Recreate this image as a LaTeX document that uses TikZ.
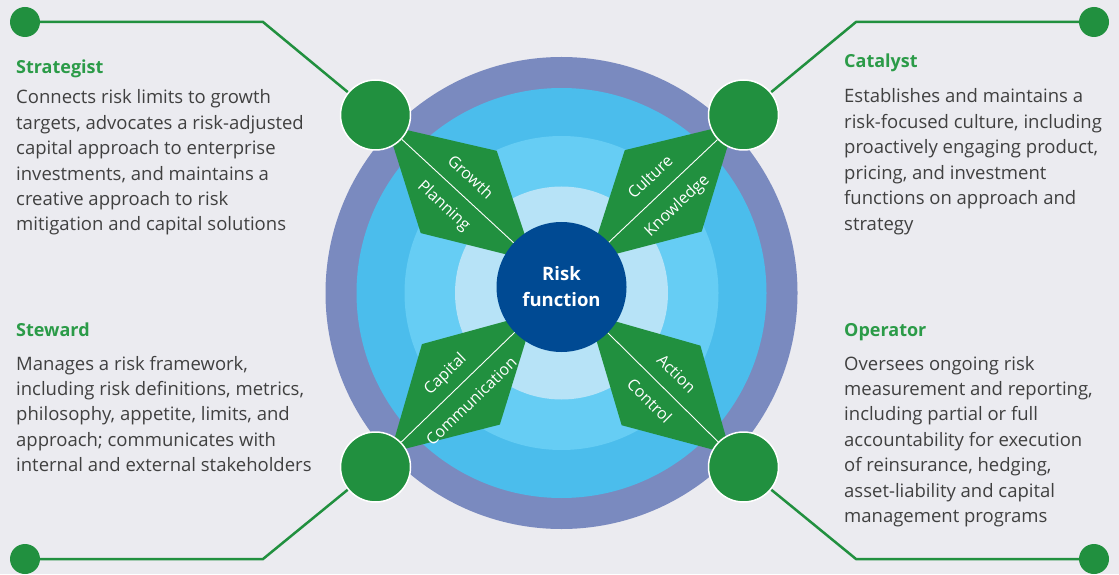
\documentclass[tikz,border=0pt]{standalone}
\usepackage{fontspec}
\setmainfont{Open Sans}
\usetikzlibrary{positioning,calc}
\pgfdeclarelayer{background}
\pgfdeclarelayer{bg1}
\pgfsetlayers{background,bg1,main}
\definecolor{Bgcol}{HTML}{EBEBF0}
\definecolor{Ringcol}{HTML}{7A8ABF}
\definecolor{Bluecol}{HTML}{4BBDEC}
\definecolor{Lightcol}{HTML}{66CDF4}
\definecolor{Palecol}{HTML}{B7E3F7}
\definecolor{Riskcol}{HTML}{004A93}
\definecolor{Rolecol}{HTML}{21903F}
\definecolor{Titlecol}{HTML}{2B9B48}
\definecolor{Textcol}{HTML}{404040}
\tikzstyle{link}  = [Rolecol,line width=2.5pt]
\tikzstyle{split} = [white,line width=0.9pt]
\tikzset{
  role/.style = {
    circle,
    fill = Rolecol,
    draw = white,
    line width = 1.5pt,
    minimum size = 70pt,
    inner sep = 0pt,
    },
  end dot/.style = {
    circle,
    fill = Rolecol,
    minimum size = 30pt,
    inner sep = 0pt,
    },
  core/.style = {
    circle,
    fill = Riskcol,
    minimum size = 130pt,
    inner sep = 0pt,
    text = white,
    align = center,
    font = \bfseries\fontsize{18.5}{26}\selectfont,
    },
  role title/.style = {
    anchor = base west,
    inner sep = 0pt,
    text = Titlecol,
    font = \bfseries\fontsize{18}{22}\selectfont,
    },
  % base anchor of a multi-line blurb sits on its last line
  blurb/.style = {
    anchor = base west,
    inner sep = 0pt,
    text = Textcol,
    align = left,
    font = \fontsize{18.5}{25.4}\selectfont,
    },
  petal label/.style = {
    sloped,
    inner sep = 0pt,
    text = white,
    text height = 11.5pt,
    text depth = 0pt,
    font = \fontsize{16}{16}\selectfont,
    },
}

\begin{document}
\begin{tikzpicture}[x=1pt,y=1pt]

    % target rings
    \begin{pgfonlayer}{background}
        \fill[Bgcol] (0,0) rectangle (1119,574);
        \coordinate (hub) at (561.5,281);
        \fill[Ringcol] (hub) circle (236);
        \fill[Bluecol] (hub) circle (205);
        \fill[Lightcol] (hub) circle (157);
        \fill[Palecol] (hub) circle (106.5);
    \end{pgfonlayer}
    \useasboundingbox (0,0) rectangle (1119,574);

    \node[core] (risk) at (561.5,287) {Risk\\function};

    \node[role] (strat) at (375.5,459) {};
    \node[role] (cata)  at (743.5,459) {};
    \node[role] (stew)  at (375.5,107) {};
    \node[role] (oper)  at (743.5,107) {};

    \node[end dot] (strat-end) at (25,552) {};
    \node[end dot] (cata-end)  at (1094,552) {};
    \node[end dot] (stew-end)  at (25,15) {};
    \node[end dot] (oper-end)  at (1094,15) {};

    \coordinate (strat-bend) at (263,552);
    \coordinate (cata-bend)  at (856,552);
    \coordinate (stew-bend)  at (263,15);
    \coordinate (oper-bend)  at (856,15);

    % petals
    \begin{pgfonlayer}{bg1}
        \foreach \r/\up/\down in {strat/Growth/Planning,cata/Culture/Knowledge,%
                                  stew/Capital/Communication,oper/Action/Control}{
            \coordinate (tip) at ($(risk)!38pt!(\r)$);
            \coordinate (mid) at ($(risk)!140pt!(\r)$);
            \coordinate (far) at ($(risk)!238pt!(\r)$);
            \fill[Rolecol] (tip) -- ($(mid)!56pt!90:(\r)$) -- (far) -- ($(mid)!56pt!-90:(\r)$) -- cycle;
            \draw[split] (risk) -- (\r)
                node[petal label,pos=.5,above=13pt] {\up}
                node[petal label,pos=.5,below=13pt] {\down};
            \draw[link] (\r-end) -- (\r-bend) -- (\r);
        }
    \end{pgfonlayer}

    % texts
    \node[role title] (strat-title) at (16,500) {Strategist};
    \node[blurb] (strat-text) at ([yshift={-(30pt+5*25.4pt)}]strat-title.base west) {Connects risk limits to growth\\
        targets, advocates a risk-adjusted\\capital approach to enterprise\\
        investments, and maintains a\\creative approach to risk\\mitigation and capital solutions};

    \node[role title] (cata-title) at (844,506) {Catalyst};
    \node[blurb] (cata-text) at ([yshift={-(35pt+5*25.4pt)}]cata-title.base west) {Establishes and maintains a\\
        risk-focused culture, including\\proactively engaging product,\\pricing, and investment\\
        functions on approach and\\strategy};

    \node[role title] (stew-title) at (16,237.3) {Steward};
    \node[blurb] (stew-text) at ([yshift={-(33.3pt+4*25.4pt)}]stew-title.base west) {Manages a risk framework,\\
        including risk definitions, metrics,\\philosophy, appetite, limits, and\\
        approach; communicates with\\internal and external stakeholders};

    \node[role title] (oper-title) at (844,237.3) {Operator};
    \node[blurb] (oper-text) at ([yshift={-(33.3pt+6*25.4pt)}]oper-title.base west) {Oversees ongoing risk\\
        measurement and reporting,\\including partial or full\\accountability for execution\\
        of reinsurance, hedging,\\asset-liability and capital\\management programs};

\end{tikzpicture}
\end{document}
